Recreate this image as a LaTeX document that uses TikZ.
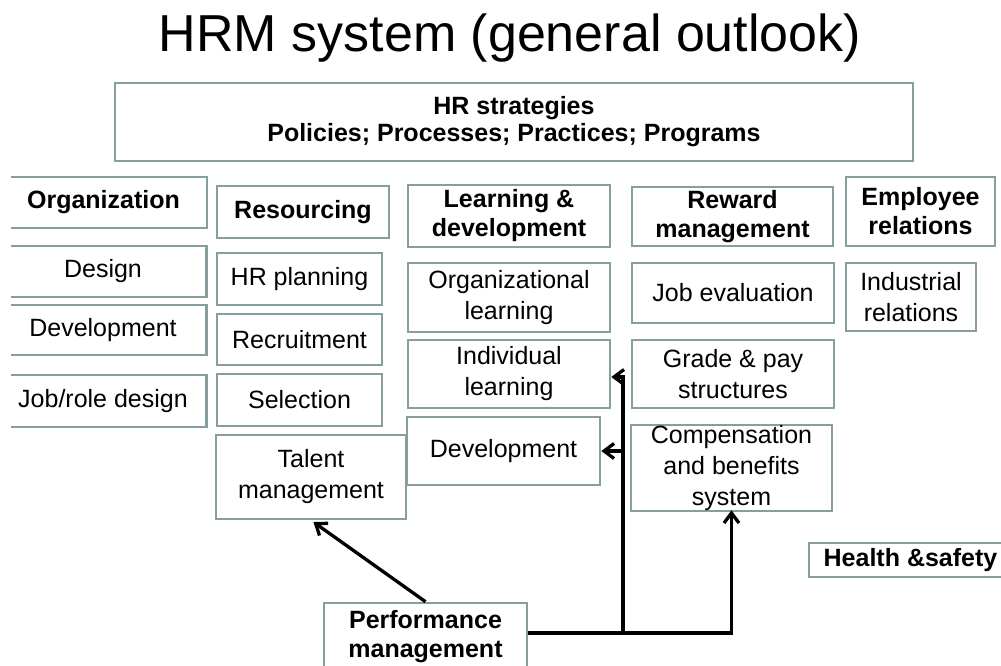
\documentclass[tikz,border=0pt]{standalone}
\usepackage{fontspec}
\setmainfont{Liberation Sans}
\usetikzlibrary{arrows.meta}
\definecolor{boxgray}{RGB}{135,158,158}

\begin{document}
\begin{tikzpicture}[
    x=1pt, y=-1pt,
    box/.style={draw=boxgray, line width=2.6pt, fill=white, inner sep=0pt, align=center, font=\fontsize{25}{31}\selectfont},
    head/.style={box, font=\fontsize{25}{29}\selectfont\bfseries},
    link/.style={line width=3.3pt, black},
    arrow/.style={link, -{Straight Barb[length=10pt, width=15pt]}},
    title/.style={font=\fontsize{52}{60}\selectfont, anchor=base}
]
\useasboundingbox (0,0) rectangle (1001,666);
\clip (0,0) rectangle (1001,666);

% Title
\node[title] (title) at (510,52) {HRM system (general outlook)};

% Strategy bar
\node[head, minimum width=798pt, minimum height=78pt, font=\fontsize{25}{27}\selectfont\bfseries] (hr) at (514,122) {HR strategies\\Policies; Processes; Practices; Programs};

% Organization column (runs off the left edge)
\begin{scope}
\clip (11,0) rectangle (220,666);
\node[head, minimum width=207pt, minimum height=51pt] (org) at (103.5,202.5) {Organization};
\node[box, minimum width=207pt, minimum height=51pt] (design) at (103,271.5) {Design};
\node[box, minimum width=207pt, minimum height=50pt] (orgdev) at (103,330) {Development};
\node[box, minimum width=207pt, minimum height=52pt] (jobrole) at (103,401) {Job/role design};
\end{scope}

% Resourcing column
\node[head, minimum width=172pt, minimum height=52pt] (res) at (303,212) {Resourcing};
\node[box, minimum width=165pt, minimum height=52pt] (hrplan) at (299.5,279) {HR planning};
\node[box, minimum width=165pt, minimum height=51pt] (recruit) at (299.5,339.5) {Recruitment};
\node[box, minimum width=165pt, minimum height=52pt] (select) at (299.5,400) {Selection};
\node[box, minimum width=190pt, minimum height=84pt] (talent) at (311,477) {Talent\\management};

% Learning & development column
\node[head, minimum width=202pt, minimum height=62pt] (ld) at (509,216) {Learning \&\\development};
\node[box, minimum width=202pt, minimum height=69pt] (orgl) at (509,297.5) {Organizational\\learning};
\node[box, minimum width=202pt, minimum height=68pt] (indl) at (509,374) {Individual\\learning};
\node[box, minimum width=193pt, minimum height=68pt] (ldev) at (503.5,451) {Development};

% Reward column
\node[head, minimum width=201pt, minimum height=59pt] (rew) at (732.5,216.5) {Reward\\management};
\node[box, minimum width=202pt, minimum height=60pt] (jobev) at (733,293) {Job evaluation};
\node[box, minimum width=202pt, minimum height=68pt] (grade) at (733,374) {Grade \& pay\\structures};
\node[box, minimum width=201pt, minimum height=86pt] (comp) at (731.5,468) {Compensation\\and benefits\\system};

% Employee relations column
\node[head, minimum width=149pt, minimum height=69pt] (emp) at (920.5,211.5) {Employee\\relations};
\node[box, minimum width=130pt, minimum height=68pt] (ind) at (911,297) {Industrial\\relations};
\node[head, minimum width=203pt, minimum height=34pt] (health) at (910.5,560) {Health \&safety};

% Performance management and its links
\node[head, minimum width=203pt, minimum height=68pt] (perf) at (425.5,637) {Performance\\management};
\coordinate (split) at (623,633);

\draw[arrow, shorten >=3pt] (perf.north) -- (talent.south);
\draw[arrow, shorten >=-2pt] ([yshift=4pt]perf.east) -| (comp.south);
\draw[arrow] (split) |- ([yshift=-3pt]indl.east);
\draw[arrow] (split |- ldev.east) -- (ldev.east);

\end{tikzpicture}
\end{document}
